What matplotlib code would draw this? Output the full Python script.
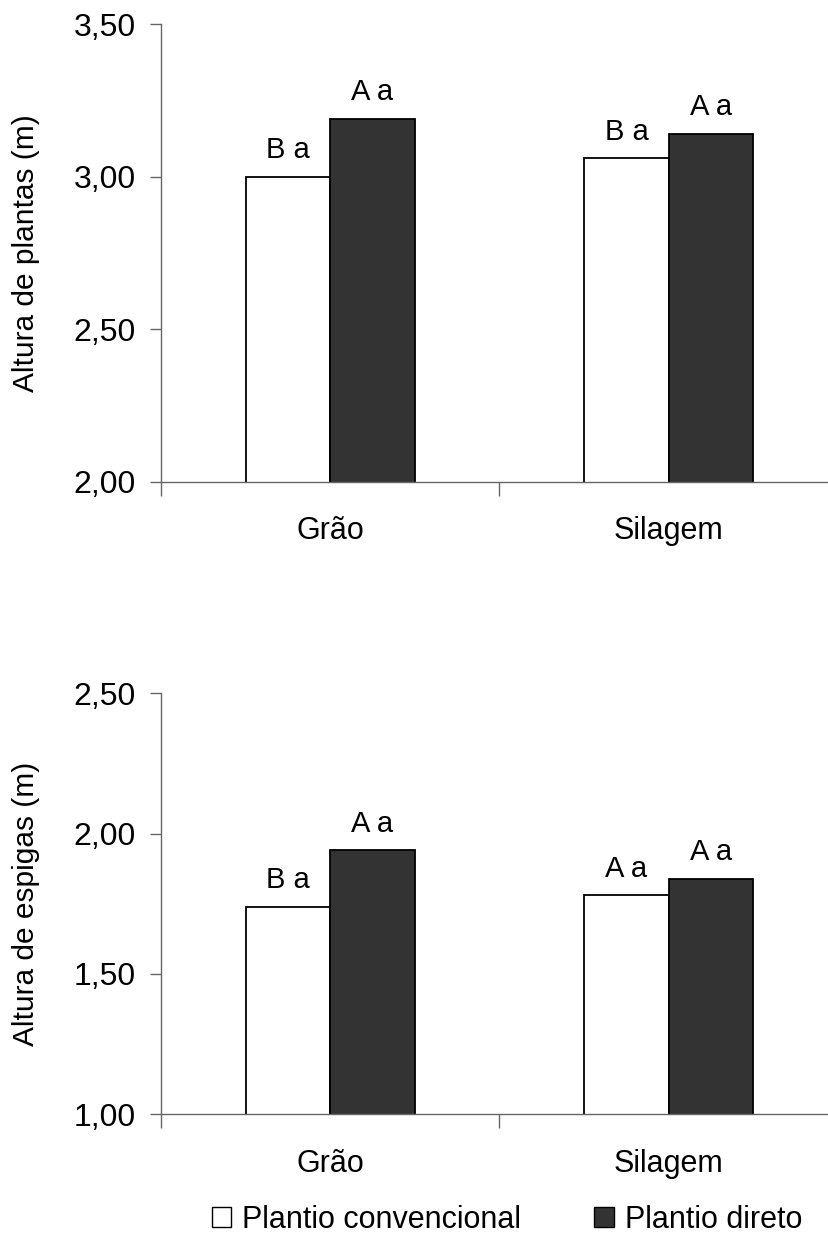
import matplotlib
matplotlib.use("Agg")
import matplotlib.pyplot as plt
from matplotlib.patches import Patch
from matplotlib.ticker import FuncFormatter, FixedLocator
import numpy as np

plt.rcParams['font.family'] = ['Liberation Sans', 'DejaVu Sans']

categories = ["Grão", "Silagem"]
series_names = ["Plantio convencional", "Plantio direto"]

plantas_conv = [3.00, 3.06]
plantas_dir = [3.19, 3.14]
plantas_letters_conv = ["B a", "B a"]
plantas_letters_dir = ["A a", "A a"]

espigas_conv = [1.74, 1.78]
espigas_dir = [1.94, 1.84]
espigas_letters_conv = ["B a", "A a"]
espigas_letters_dir = ["A a", "A a"]

W, H = 829, 1244
fig = plt.figure(figsize=(W / 100, H / 100), dpi=100)

def px_axes(left, top, right, bottom):
    return [left / W, 1 - bottom / H, (right - left) / W, (bottom - top) / H]

axis_col = "#666666"
dark = "#333333"
fs_tick = 23
fs_cat = 22
fs_lab = 21.5
fs_bar = 21
fs_leg = 22

def draw(ax, conv, direto, lconv, ldir, ylim, yticks, ylabel):
    x = np.arange(len(categories))
    bw = 0.25
    b1 = ax.bar(x + 0.5 - bw / 2, conv, width=bw, color="white",
                edgecolor="black", linewidth=1.3, zorder=2)
    b2 = ax.bar(x + 0.5 + bw / 2, direto, width=bw, color=dark,
                edgecolor="black", linewidth=1.3, zorder=2)
    for bars, labels in ((b1, lconv), (b2, ldir)):
        for rect, lab in zip(bars, labels):
            ax.annotate(lab, (rect.get_x() + rect.get_width() / 2, rect.get_height()),
                        xytext=(0, 13.5), textcoords="offset points",
                        ha="center", va="baseline", fontsize=fs_bar, color="black")
    ax.set_xlim(0, len(categories))
    ax.set_ylim(*ylim)
    ax.set_yticks(yticks)
    ax.yaxis.set_major_formatter(FuncFormatter(lambda v, p: f"{v:.2f}".replace(".", ",")))
    ax.xaxis.set_major_locator(FixedLocator(np.arange(len(categories) + 1)))
    ax.xaxis.set_major_formatter(FuncFormatter(lambda v, p: ""))
    ax.set_xticks(x + 0.5, minor=True)
    ax.set_xticklabels(categories, minor=True)
    ax.tick_params(axis="x", which="minor", length=0, pad=25, labelsize=fs_cat)
    ax.tick_params(axis="x", which="major", length=10, width=1, color=axis_col, direction="out")
    ax.tick_params(axis="y", which="major", length=8, width=1, color=axis_col,
                   direction="out", labelsize=fs_tick, pad=10)
    for s in ("top", "right"):
        ax.spines[s].set_visible(False)
    for s in ("left", "bottom"):
        ax.spines[s].set_color(axis_col)
        ax.spines[s].set_linewidth(1)
    ax.set_ylabel(ylabel, fontsize=fs_lab)
    ax.yaxis.set_label_coords(-0.178, 0.5)
    ax.patch.set_alpha(0)

ax1 = fig.add_axes(px_axes(161, 24.3, 838, 481.7))
draw(ax1, plantas_conv, plantas_dir, plantas_letters_conv, plantas_letters_dir,
     (2.0, 3.5), [2.0, 2.5, 3.0, 3.5], "Altura de plantas (m)")

ax2 = fig.add_axes(px_axes(161, 693.3, 838, 1114.3))
draw(ax2, espigas_conv, espigas_dir, espigas_letters_conv, espigas_letters_dir,
     (1.0, 2.5), [1.0, 1.5, 2.0, 2.5], "Altura de espigas (m)")

handles = [Patch(facecolor="white", edgecolor="black", linewidth=1),
           Patch(facecolor=dark, edgecolor="black", linewidth=1)]
fig.legend(handles, series_names, loc="center", bbox_to_anchor=(507 / W, 1 - 1220 / H),
           ncol=2, frameon=False, fontsize=fs_leg, handlelength=0.65, handleheight=0.65,
           handletextpad=0.35, columnspacing=2.4, borderpad=0)

fig.savefig("out.png", dpi=100)
